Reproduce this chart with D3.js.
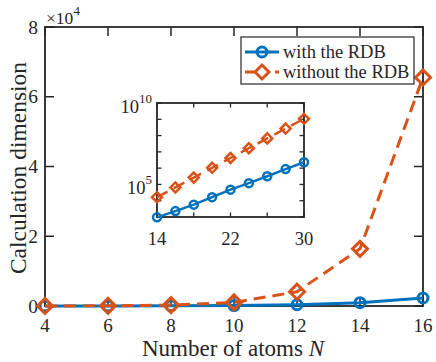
<!DOCTYPE html>
<html>
<head>
<meta charset="utf-8">
<script src="https://cdn.jsdelivr.net/npm/d3@7"></script>
<style>
    body { margin: 0; background: #fff; }
</style>
</head>
<body>
<div id="graph"></div>
<script>
//  main panel data
var atoms = [4, 6, 8, 10, 12, 14, 16];
var dimWith = [8, 20, 50, 130, 360, 950, 2300];
var dimWithout = [16, 64, 256, 1024, 4096, 16384, 65536];
var yTicks = [0, 20000, 40000, 60000, 80000];
var yTickLabels = ['0', '2', '4', '6', '8'];

//  inset data (log scale)
var atomsInset = [14, 16, 18, 20, 22, 24, 26, 28, 30];
var insetWith = [950, 2300, 5750, 16600, 47900, 120000, 316000, 871000, 2290000];
var insetWithout = [16384, 65536, 262144, 1048576, 4194304, 16777216, 67108864, 268435456, 1073741824];
var insetXTicks = [14, 18, 22, 26, 30];
var insetXLabels = [14, 22, 30];

var seriesNames = ['with the RDB', 'without the RDB'];
var colors = ['#0072BD', '#D95319'];

var width = 436,
    height = 362,
    axisColor = '#262626',
    serif = '"Liberation Serif", "Times New Roman", "DejaVu Serif", serif';

var svg = d3.select('#graph').append('svg')
    .attr('width', width)
    .attr('height', height)
    .attr('font-family', serif)
    .attr('fill', axisColor);

var x = d3.scaleLinear().domain([4, 16]).range([45, 423]),
    y = d3.scaleLinear().domain([0, 80000]).range([306, 27]);

//  box + ticks
var axes = svg.append('g');
axes.append('rect')
    .attr('x', x.range()[0]).attr('y', y.range()[1])
    .attr('width', x.range()[1] - x.range()[0])
    .attr('height', y.range()[0] - y.range()[1])
    .attr('fill', 'none').attr('stroke', axisColor).attr('stroke-width', 1.8);

atoms.forEach(function(t) {
    axes.append('line').attr('x1', x(t)).attr('x2', x(t)).attr('y1', 306).attr('y2', 297)
        .attr('stroke', axisColor).attr('stroke-width', 1.5);
    axes.append('line').attr('x1', x(t)).attr('x2', x(t)).attr('y1', 27).attr('y2', 36)
        .attr('stroke', axisColor).attr('stroke-width', 1.5);
    axes.append('text').attr('x', x(t)).attr('y', 331.5)
        .attr('text-anchor', 'middle').attr('font-size', 19).text(t);
});
yTicks.forEach(function(t, i) {
    axes.append('line').attr('x1', 45).attr('x2', 54).attr('y1', y(t)).attr('y2', y(t))
        .attr('stroke', axisColor).attr('stroke-width', 1.5);
    axes.append('line').attr('x1', 423).attr('x2', 414).attr('y1', y(t)).attr('y2', y(t))
        .attr('stroke', axisColor).attr('stroke-width', 1.5);
    axes.append('text').attr('x', 38).attr('y', y(t) + 6.5)
        .attr('text-anchor', 'end').attr('font-size', 19.5).text(yTickLabels[i]);
});

//  exponent
var expo = svg.append('text').attr('x', 46).attr('y', 24).attr('font-size', 17.5);
expo.append('tspan').text('\u00d710');
expo.append('tspan').attr('dy', -9).attr('font-size', 13).text('4');

//  axis labels
var xl = svg.append('text').attr('x', 233).attr('y', 356)
    .attr('text-anchor', 'middle').attr('font-size', 23);
xl.append('tspan').text('Number of atoms ');
xl.append('tspan').attr('font-style', 'italic').text('N');

svg.append('text')
    .attr('transform', 'translate(26,168) rotate(-90)')
    .attr('text-anchor', 'middle').attr('font-size', 23.5)
    .text('Calculation dimension');

//  series
function drawSeries(g, xs, ys, sx, sy, idx, lw, r, dsz) {
    var pts = xs.map(function(d, i) { return [sx(d), sy(ys[i])]; });
    g.append('path')
        .attr('d', d3.line()(pts))
        .attr('fill', 'none')
        .attr('stroke', colors[idx])
        .attr('stroke-width', lw)
        .attr('stroke-dasharray', idx === 1 ? '12,7' : null);
    pts.forEach(function(p) {
        if (idx === 0) {
            g.append('circle').attr('cx', p[0]).attr('cy', p[1]).attr('r', r)
                .attr('fill', 'none').attr('stroke', colors[0]).attr('stroke-width', lw);
        } else {
            g.append('path')
                .attr('d', 'M' + p[0] + ',' + (p[1] - dsz) + 'L' + (p[0] + dsz) + ',' + p[1] +
                           'L' + p[0] + ',' + (p[1] + dsz) + 'L' + (p[0] - dsz) + ',' + p[1] + 'Z')
                .attr('fill', 'none').attr('stroke', colors[1]).attr('stroke-width', lw);
        }
    });
}

var plot = svg.append('g');
drawSeries(plot, atoms, dimWith, x, y, 0, 3, 5, 0);
drawSeries(plot, atoms, dimWithout, x, y, 1, 3, 0, 7.5);

//  legend
var leg = svg.append('g');
leg.append('rect').attr('x', 241).attr('y', 37).attr('width', 173).attr('height', 47)
    .attr('fill', '#fff').attr('stroke', axisColor).attr('stroke-width', 1.2);
seriesNames.forEach(function(name, i) {
    var ly = 52 + i * 20;
    leg.append('line').attr('x1', 245).attr('x2', 279).attr('y1', ly).attr('y2', ly)
        .attr('stroke', colors[i]).attr('stroke-width', 3)
        .attr('stroke-dasharray', i === 1 ? '9,6' : null);
    if (i === 0) {
        leg.append('circle').attr('cx', 262).attr('cy', ly).attr('r', 5)
            .attr('fill', 'none').attr('stroke', colors[0]).attr('stroke-width', 3);
    } else {
        leg.append('path').attr('d', 'M262,' + (ly - 7) + 'L269,' + ly + 'L262,' + (ly + 7) + 'L255,' + ly + 'Z')
            .attr('fill', '#fff').attr('stroke', colors[1]).attr('stroke-width', 3);
    }
    leg.append('text').attr('x', 283).attr('y', ly + 6).attr('font-size', 18.5).text(name);
});

//  inset
var xi = d3.scaleLinear().domain([14, 30]).range([157, 304]),
    yi = d3.scaleLog().domain([1e3, 1e10]).range([217, 103]);

var inset = svg.append('g');
inset.append('rect')
    .attr('x', 157).attr('y', 103).attr('width', 147).attr('height', 114)
    .attr('fill', '#fff').attr('stroke', axisColor).attr('stroke-width', 1.8);

insetXTicks.forEach(function(t) {
    inset.append('line').attr('x1', xi(t)).attr('x2', xi(t)).attr('y1', 217).attr('y2', 212.5)
        .attr('stroke', axisColor).attr('stroke-width', 1.3);
    inset.append('line').attr('x1', xi(t)).attr('x2', xi(t)).attr('y1', 103).attr('y2', 107.5)
        .attr('stroke', axisColor).attr('stroke-width', 1.3);
});
insetXLabels.forEach(function(t) {
    inset.append('text').attr('x', xi(t)).attr('y', 245)
        .attr('text-anchor', 'middle').attr('font-size', 18.5).text(t);
});
d3.range(3, 11).forEach(function(e) {
    var ty = yi(Math.pow(10, e));
    inset.append('line').attr('x1', 157).attr('x2', 161.5).attr('y1', ty).attr('y2', ty)
        .attr('stroke', axisColor).attr('stroke-width', 1.3);
    inset.append('line').attr('x1', 304).attr('x2', 299.5).attr('y1', ty).attr('y2', ty)
        .attr('stroke', axisColor).attr('stroke-width', 1.3);
    if (e === 5 || e === 10) {
        var lab = inset.append('text').attr('x', 152).attr('y', ty + 10)
            .attr('text-anchor', 'end').attr('font-size', 18.5);
        lab.append('tspan').text('10');
        lab.append('tspan').attr('dy', -10).attr('font-size', 13).text(e);
    }
});

drawSeries(inset, atomsInset, insetWith, xi, yi, 0, 2.5, 4, 0);
drawSeries(inset, atomsInset, insetWithout, xi, yi, 1, 2.5, 0, 5);
</script>
</body>
</html>
